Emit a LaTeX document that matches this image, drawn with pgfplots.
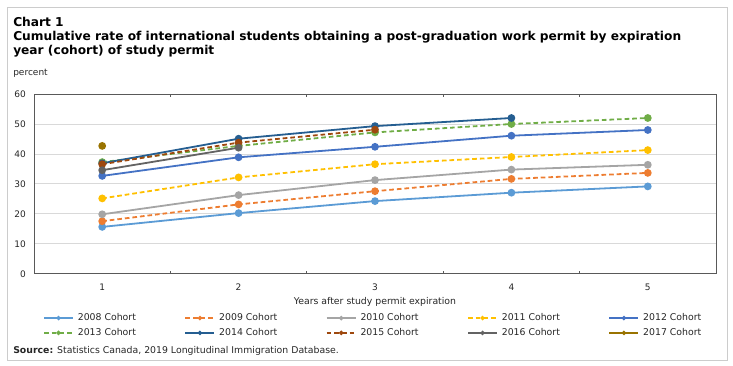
\documentclass[border=0pt]{standalone}
\usepackage{fontspec}
\setmainfont{DejaVu Sans}
\usepackage{pgfplots}
\pgfplotsset{compat=1.18}
\definecolor{c08}{HTML}{5B9BD5}
\definecolor{c09}{HTML}{ED7D31}
\definecolor{c10}{HTML}{A5A5A5}
\definecolor{c11}{HTML}{FFC000}
\definecolor{c12}{HTML}{4472C4}
\definecolor{c13}{HTML}{70AD47}
\definecolor{c14}{HTML}{255E91}
\definecolor{c15}{HTML}{9E480E}
\definecolor{c16}{HTML}{636363}
\definecolor{c17}{HTML}{997300}
\definecolor{frame}{HTML}{CCCCCC}
\definecolor{axisc}{HTML}{595959}
\definecolor{gridc}{HTML}{D9D9D9}
\definecolor{txt}{HTML}{262626}
\begin{document}
\begin{tikzpicture}
\useasboundingbox (0,0) rectangle (549.75pt,-274.5pt);
\draw[color=frame, line width=0.75pt] (5.25pt,-6pt) rectangle (545.25pt,-270.75pt);
\node[anchor=west, inner sep=0pt, font=\bfseries\fontsize{9.15}{10}\selectfont] at (9.75pt,-16.5pt) {Chart 1};
\node[anchor=west, inner sep=0pt, font=\bfseries\fontsize{9.15}{10}\selectfont] at (9.75pt,-27.75pt) {Cumulative rate of international students obtaining a post-graduation work permit by expiration};
\node[anchor=west, inner sep=0pt, font=\bfseries\fontsize{9.15}{10}\selectfont] at (9.75pt,-38.25pt) {year (cohort) of study permit};
\node[anchor=west, inner sep=0pt, text=txt, font=\fontsize{6.75}{8}\selectfont] at (9.75pt,-54.75pt) {percent};
\node[anchor=west, inner sep=0pt, text=txt, font=\fontsize{7}{8}\selectfont] at (9.75pt,-263.25pt) {\textbf{Source:} Statistics Canada, 2019 Longitudinal Immigration Database.};
\begin{axis}[
  at={(25.5pt,-205.5pt)}, anchor=south west,
  scale only axis, width=511.5pt, height=135pt,
  xmin=0.5, xmax=5.5, ymin=0, ymax=60,
  ytick={0,10,...,60},
  xtick={1,2,3,4,5},
  minor xtick={1.5,2.5,3.5,4.5},
  major tick length=0pt,
  minor tick length=2.5pt,
  tick align=inside,
  tick style={color=axisc, line width=0.75pt},
  ymajorgrids,
  major grid style={color=gridc, line width=0.75pt},
  axis line style={color=axisc, line width=0.75pt},
  /pgf/number format/assume math mode=true,
  tick label style={font=\fontsize{6.75}{8}\selectfont, text=txt, inner sep=0pt},
  yticklabel shift=6pt,
  xticklabel shift=7.3pt,
  xlabel={Years after study permit expiration},
  xlabel style={font=\fontsize{7}{8}\selectfont, text=txt, at={(axis description cs:0.5,-0.1556)}, anchor=center, inner sep=0pt},
  legend columns=5,
  legend style={draw=none, fill=none, inner sep=0pt, at={(axis description cs:0.0132,-0.2861)}, anchor=west,
    font=\fontsize{7}{8}\selectfont, text=txt,
    nodes={inner sep=0pt, text height=5.2pt, text depth=1.4pt},
    row sep=4.5pt,
    /tikz/every odd column/.append style={column sep=3pt},
    /tikz/every even column/.append style={column sep=36.5pt}},
  legend cell align=left,
  legend image code/.code={
    \draw[mark repeat=2, mark phase=2, mark size=1pt, line width=1.2pt] plot coordinates {(0pt,0pt) (10.875pt,0pt) (21.75pt,0pt)};
  },
  every axis plot/.append style={line width=1.35pt, mark=*, mark size=2.2pt, mark options={solid}},
  clip=false,
]
\addplot[c08] coordinates {(1,15.7) (2,20.3) (3,24.3) (4,27.1) (5,29.2)};
\addlegendentry{2008 Cohort}
\addplot[c09, dash pattern=on 3.5pt off 2.2pt] coordinates {(1,17.6) (2,23.2) (3,27.6) (4,31.7) (5,33.7)};
\addlegendentry{2009 Cohort}
\addplot[c10] coordinates {(1,19.9) (2,26.3) (3,31.3) (4,34.8) (5,36.4)};
\addlegendentry{2010 Cohort}
\addplot[c11, dash pattern=on 3.5pt off 2.2pt] coordinates {(1,25.2) (2,32.2) (3,36.6) (4,39.0) (5,41.3)};
\addlegendentry{2011 Cohort}
\addplot[c12] coordinates {(1,32.7) (2,38.9) (3,42.4) (4,46.1) (5,48.0)};
\addlegendentry{2012 Cohort}
\addplot[c13, dash pattern=on 3.5pt off 2.2pt] coordinates {(1,37.3) (2,42.7) (3,47.2) (4,50.0) (5,52.0)};
\addlegendentry{2013 Cohort}
\addplot[c14] coordinates {(1,36.9) (2,45.1) (3,49.3) (4,52.0)};
\addlegendentry{2014 Cohort}
\addplot[c15, dash pattern=on 3.5pt off 2.2pt] coordinates {(1,36.6) (2,43.8) (3,48.1)};
\addlegendentry{2015 Cohort}
\addplot[c16] coordinates {(1,34.6) (2,42.1)};
\addlegendentry{2016 Cohort}
\addplot[c17] coordinates {(1,42.7)};
\addlegendentry{2017 Cohort}
\end{axis}
\end{tikzpicture}
\end{document}
